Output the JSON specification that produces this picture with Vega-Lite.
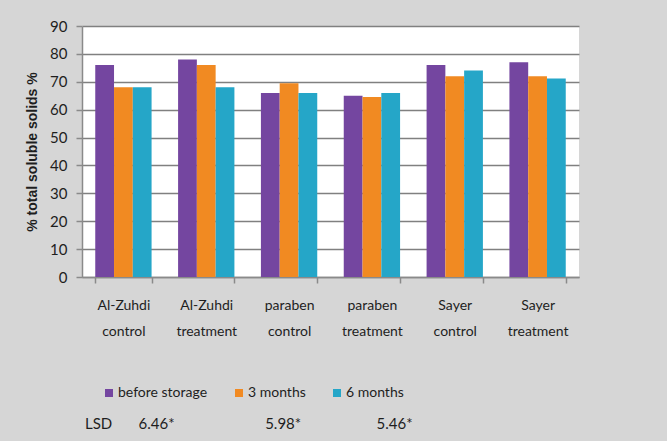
{
  "$schema": "https://vega.github.io/schema/vega-lite/v6.json",
  "width": 497,
  "height": 251,
  "autosize": {"type": "none"},
  "padding": {"left": 82, "top": 26, "right": 88, "bottom": 164},
  "background": "#d6d6d6",
  "config": {
    "view": {"fill": "white", "stroke": null},
    "font": "Lato"
  },
  "data": {
    "values": [
      {"group": "Al-Zuhdi control", "period": "before storage", "value": 76},
      {"group": "Al-Zuhdi control", "period": "3 months", "value": 68},
      {"group": "Al-Zuhdi control", "period": "6 months", "value": 68},
      {"group": "Al-Zuhdi treatment", "period": "before storage", "value": 78},
      {"group": "Al-Zuhdi treatment", "period": "3 months", "value": 76},
      {"group": "Al-Zuhdi treatment", "period": "6 months", "value": 68},
      {"group": "paraben control", "period": "before storage", "value": 66},
      {"group": "paraben control", "period": "3 months", "value": 69.5},
      {"group": "paraben control", "period": "6 months", "value": 66},
      {"group": "paraben treatment", "period": "before storage", "value": 65},
      {"group": "paraben treatment", "period": "3 months", "value": 64.5},
      {"group": "paraben treatment", "period": "6 months", "value": 66},
      {"group": "Sayer control", "period": "before storage", "value": 76},
      {"group": "Sayer control", "period": "3 months", "value": 72},
      {"group": "Sayer control", "period": "6 months", "value": 74},
      {"group": "Sayer treatment", "period": "before storage", "value": 77},
      {"group": "Sayer treatment", "period": "3 months", "value": 72},
      {"group": "Sayer treatment", "period": "6 months", "value": 71.2}
    ]
  },
  "mark": {"type": "bar"},
  "encoding": {
    "x": {
      "field": "group",
      "type": "nominal",
      "sort": ["Al-Zuhdi control", "Al-Zuhdi treatment", "paraben control", "paraben treatment", "Sayer control", "Sayer treatment"],
      "scale": {"paddingInner": 0.32, "paddingOuter": 0.16},
      "axis": {
        "title": null,
        "labelAngle": 0,
        "labelExpr": "split(datum.label, ' ')",
        "labelFontSize": 14,
        "labelLineHeight": 26,
        "labelColor": "#1e1e1e",
        "labelPadding": 15,
        "tickBand": "extent",
        "tickSize": 6,
        "tickColor": "#8a8a8a",
        "tickWidth": 1.5,
        "domainColor": "#8a8a8a",
        "domainWidth": 1.5
      }
    },
    "xOffset": {
      "field": "period",
      "sort": ["before storage", "3 months", "6 months"]
    },
    "y": {
      "field": "value",
      "type": "quantitative",
      "scale": {"domain": [0, 90]},
      "axis": {
        "values": [0, 10, 20, 30, 40, 50, 60, 70, 80, 90],
        "title": "% total soluble solids %",
        "titleFont": "Liberation Sans",
        "titleFontSize": 14,
        "titleFontWeight": "bold",
        "titleColor": "#1e1e1e",
        "titlePadding": 10,
        "labelFontSize": 15,
        "labelColor": "#1e1e1e",
        "labelPadding": 9,
        "tickSize": 6,
        "tickColor": "#8a8a8a",
        "tickWidth": 1.5,
        "domainColor": "#8a8a8a",
        "domainWidth": 1.5,
        "gridColor": "#808080",
        "gridWidth": 1.5
      }
    },
    "color": {
      "field": "period",
      "type": "nominal",
      "sort": ["before storage", "3 months", "6 months"],
      "scale": {
        "domain": ["before storage", "3 months", "6 months"],
        "range": ["#7446a0", "#f18a22", "#25a6c8"]
      },
      "legend": {
        "orient": "none",
        "legendX": 20,
        "legendY": 360,
        "direction": "horizontal",
        "title": null,
        "symbolType": "square",
        "symbolSize": 64,
        "symbolStrokeWidth": 0,
        "labelFontSize": 14,
        "labelColor": "#1e1e1e",
        "labelOffset": 2,
        "columnPadding": 24
      }
    }
  },
  "title": {
    "text": "LSD\u2003\u2003 6.46*\u2003\u2003\u2003\u2003\u2003\u2003\u00a0\u00a0\u00a0\u00a0\u00a0\u00a05.98*\u2003\u2003\u2003\u2003\u2003\u00a0\u00a0\u00a0\u00a0\u00a05.46*",
    "orient": "bottom",
    "anchor": "start",
    "frame": "group",
    "dx": 3,
    "offset": 17,
    "fontSize": 15,
    "fontWeight": "normal",
    "color": "#1e1e1e"
  }
}
